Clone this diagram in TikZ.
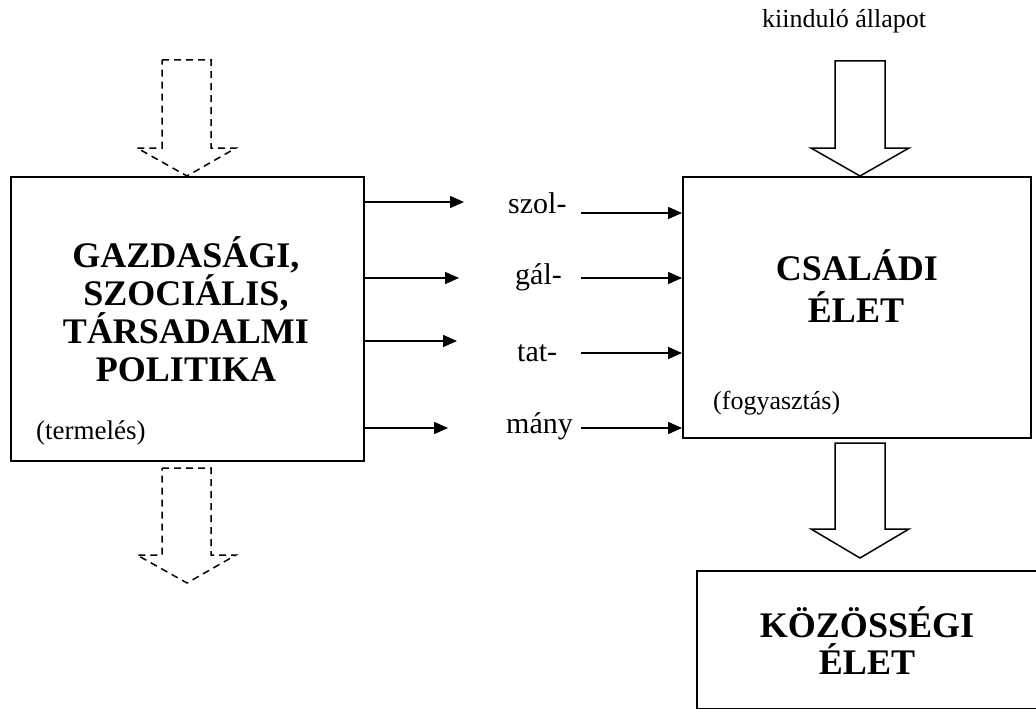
\documentclass[tikz,border=0pt]{standalone}
\usepackage{fontspec}
\setmainfont{Liberation Serif}
\usetikzlibrary{arrows.meta,calc}
\begin{document}
\begin{tikzpicture}[x=1pt,y=-1pt,
 box/.style={draw,line width=1.8pt,inner sep=0pt,anchor=north west},
 ttl/.style={font=\fontsize{36}{38}\selectfont\bfseries,anchor=base,inner sep=0pt},
 lbl/.style={font=\fontsize{30}{32}\selectfont,anchor=base west,inner sep=0pt},
 sml/.style={font=\fontsize{26}{28}\selectfont,anchor=base west,inner sep=0pt},
 arr/.style={line width=1.5pt,-{Triangle[length=14pt,width=12pt]}},
 blk/.style={line width=1.5pt,line join=miter},
 dblk/.style={line width=1.5pt,dash pattern=on 7pt off 5pt}]
\clip (0,0) rectangle (1036,709);
% boxes
\node[box,minimum width=353pt,minimum height=284pt] (gazd) at (10,176) {};
\node[box,minimum width=348pt,minimum height=261pt] (csal) at (682,176) {};
\node[box,minimum width=360pt,minimum height=138pt] (koz) at (696,570) {};
% titles
\node[ttl] (g1) at (186,267) {GAZDASÁGI,};
\node[ttl] (g2) at (186,305) {SZOCIÁLIS,};
\node[ttl] (g3) at (186,343) {TÁRSADALMI};
\node[ttl] (g4) at (186,381) {POLITIKA};
\node[ttl] (c1) at (857,280) {CSALÁDI};
\node[ttl] (c2) at (856,322) {ÉLET};
\node[ttl] (k1) at (867,637) {KÖZÖSSÉGI};
\node[ttl] (k2) at (867,674) {ÉLET};
\node[font=\fontsize{27}{29}\selectfont,anchor=base west,inner sep=0pt] (term) at (36,439) {(termelés)};
\node[sml] (fogy) at (713,409) {(fogyasztás)};
\node[sml] (kiin) at (762,28) {kiinduló állapot};
% labels
\node[lbl] (l1) at (508,213) {szol-};
\node[lbl] (l2) at (515,284) {gál-};
\node[lbl] (l3) at (517,361) {tat-};
\node[lbl] (l4) at (506,433) {mány};
% left arrows
\coordinate (a1) at (464,202);
\coordinate (a2) at (459,278);
\coordinate (a3) at (457,341);
\coordinate (a4) at (448,428);
\foreach \c in {a1,a2,a3,a4} \draw[arr] (\c -| gazd.east) -- (\c);
% right arrows
\coordinate (b1) at (581,213);
\coordinate (b2) at (581,278);
\coordinate (b3) at (581,353);
\coordinate (b4) at (581,428);
\foreach \c in {b1,b2,b3,b4} \draw[arr] (\c) -- (\c -| csal.west);
% block arrows
\draw[blk] (835,61) -- (885,61) -- (885,148) -- (909,148) -- (860,176) -- (811,148) -- (835,148) -- cycle;
\draw[blk] (835,443) -- (885,443) -- (885,529) -- (909,529) -- (860,558) -- (811,529) -- (835,529) -- cycle;
\draw[dblk] (162,60) -- (211,60) -- (211,148) -- (236,148) -- (187,176) -- (137,148) -- (162,148) -- cycle;
\draw[dblk] (162,468) -- (211,468) -- (211,555) -- (236,555) -- (187,583) -- (137,555) -- (162,555) -- cycle;
\end{tikzpicture}
\end{document}
